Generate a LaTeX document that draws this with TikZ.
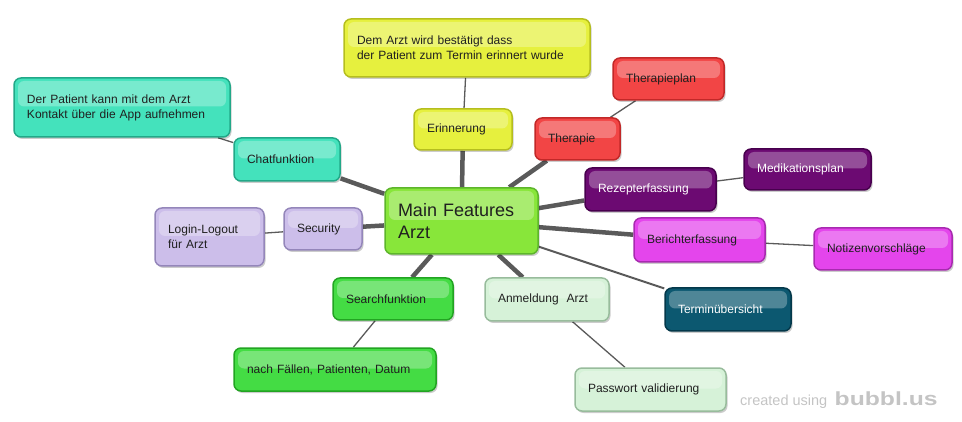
\documentclass[tikz,border=0pt]{standalone}
\usepackage{fontspec}
\setmainfont{Liberation Sans}
\usetikzlibrary{shadows}
\pgfdeclarelayer{background}
\pgfsetlayers{background,main}

\definecolor{mainfill}{HTML}{88E63A}
\definecolor{mainline}{HTML}{5DB52B}
\definecolor{yelfill}{HTML}{E6F03E}
\definecolor{yelline}{HTML}{B5BE1E}
\definecolor{redfill}{HTML}{F24545}
\definecolor{redline}{HTML}{C22828}
\definecolor{purfill}{HTML}{6C0A72}
\definecolor{purline}{HTML}{48004E}
\definecolor{magfill}{HTML}{E445EC}
\definecolor{magline}{HTML}{A82AB0}
\definecolor{tealfill}{HTML}{0C5870}
\definecolor{tealline}{HTML}{04384A}
\definecolor{palefill}{HTML}{D6F2D8}
\definecolor{paleline}{HTML}{98BC9C}
\definecolor{grnfill}{HTML}{44DC44}
\definecolor{grnline}{HTML}{22A422}
\definecolor{lavfill}{HTML}{CCBEEA}
\definecolor{lavline}{HTML}{9486BA}
\definecolor{aquafill}{HTML}{44E2BC}
\definecolor{aqualine}{HTML}{22A888}
\definecolor{linkgray}{HTML}{5A5A5A}
\definecolor{txtdark}{HTML}{202020}
\definecolor{markgray}{HTML}{C4C4C4}

\begin{document}
\begin{tikzpicture}[x=1pt,y=-1pt,
	bubble/.style={draw=#1line, fill=#1fill, line width=1.5pt, rounded corners=7pt,
		inner xsep=13pt, inner ysep=4pt, align=left, text=txtdark,
		font=\fontsize{12}{15}\selectfont,
		drop shadow={shadow xshift=1.5pt, shadow yshift=-2pt, opacity=.2, fill=black},
		path picture={\fill[white, opacity=.28, rounded corners=6pt]
			([xshift=4pt,yshift=-3pt]path picture bounding box.north west) rectangle
			([xshift=-4pt,yshift=1pt]path picture bounding box.east);}},
	thick link/.style={line width=4.5pt, draw=linkgray},
	thin link/.style={line width=1.3pt, draw=linkgray}]
%	\draw [help lines, step=50] (0,0) grid (962,422);
	\useasboundingbox (0,0) rectangle (962,422);
	% centre
	\node [bubble=main, text width=127pt, minimum height=66pt, font=\fontsize{18}{22}\selectfont] (main) at (461.5,221) {Main Features\\Arzt};
	% upper branches
	\node [bubble=yel, text width=72pt, minimum height=41pt] (erin) at (463,129.5) {Erinnerung};
	\node [bubble=yel, text width=220pt, minimum height=58pt] (bestaetigt) at (467,48) {Dem Arzt wird best\"atigt dass\\der Patient zum Termin erinnert wurde};
	\node [bubble=red, text width=59pt, minimum height=42pt] (ther) at (577.5,139) {Therapie};
	\node [bubble=red, text width=85pt, minimum height=42pt] (therplan) at (668.5,79) {Therapieplan};
	% right branches
	\node [bubble=pur, text width=105pt, minimum height=43pt, text=white] (rezept) at (650.5,189.5) {Rezepterfassung};
	\node [bubble=pur, text width=101pt, minimum height=41pt, text=white] (medik) at (807.5,169.5) {Medikationsplan};
	\node [bubble=mag, text width=105pt, minimum height=44pt] (bericht) at (699.5,240) {Berichterfassung};
	\node [bubble=mag, text width=112pt, minimum height=42pt] (notiz) at (883,249) {Notizenvorschl\"age};
	\node [bubble=teal, text width=100pt, minimum height=43pt, text=white] (termin) at (728,309.5) {Termin\"ubersicht};
	% lower branches
	\node [bubble=pale, text width=98pt, minimum height=43pt] (anmeld) at (547,299.5) {Anmeldung\ \ Arzt};
	\node [bubble=pale, text width=125pt, minimum height=43pt] (passwort) at (650.5,389.5) {Passwort validierung};
	\node [bubble=grn, text width=94pt, minimum height=42pt] (search) at (393,299) {Searchfunktion};
	\node [bubble=grn, text width=176pt, minimum height=43pt] (filter) at (335,369.5) {nach F\"allen, Patienten, Datum};
	% left branches
	\node [bubble=lav, text width=52pt, minimum height=42pt] (secur) at (323,229) {Security};
	\node [bubble=lav, text width=83pt, minimum height=58pt] (login) at (209.5,237) {Login-Logout\\f\"ur Arzt};
	\node [bubble=aqua, text width=80pt, minimum height=43pt] (chat) at (287,159.5) {Chatfunktion};
	\node [bubble=aqua, text width=190pt, minimum height=59pt] (kontakt) at (122,107.5) {Der Patient kann mit dem Arzt\\Kontakt \"uber die App aufnehmen};
	% watermark
	\node [text=markgray, font=\fontsize{14.5}{16}\selectfont, anchor=base west, inner sep=0pt] (made) at (740,405) {created using};
	\node [text=markgray, font=\fontsize{19}{20}\selectfont\bfseries, anchor=base west, inner sep=0pt, xscale=1.3, transform shape] (bubbl) at ([xshift=7pt]made.base east) {bubbl.us};
	% connectors
	\begin{pgfonlayer}{background}
		\draw [thick link] (main) -- (erin);
		\draw [thick link] (main) -- (ther);
		\draw [thick link] (main) -- (rezept);
		\draw [thick link] (main) -- (bericht);
		\draw [line width=2pt, draw=linkgray] (main) -- (termin);
		\draw [thick link] (main) -- (anmeld);
		\draw [thick link] (main) -- (search);
		\draw [thick link] (main) -- (secur);
		\draw [thick link] (main) -- (chat);
		\draw [thin link] (erin) -- (bestaetigt);
		\draw [thin link] (ther) -- (therplan);
		\draw [thin link] (rezept) -- (medik);
		\draw [thin link] (bericht) -- (notiz);
		\draw [thin link] (anmeld) -- (passwort);
		\draw [thin link] (search) -- (filter);
		\draw [thin link] (secur) -- (login);
		\draw [thin link] (chat) -- (kontakt);
	\end{pgfonlayer}
\end{tikzpicture}
\end{document}
